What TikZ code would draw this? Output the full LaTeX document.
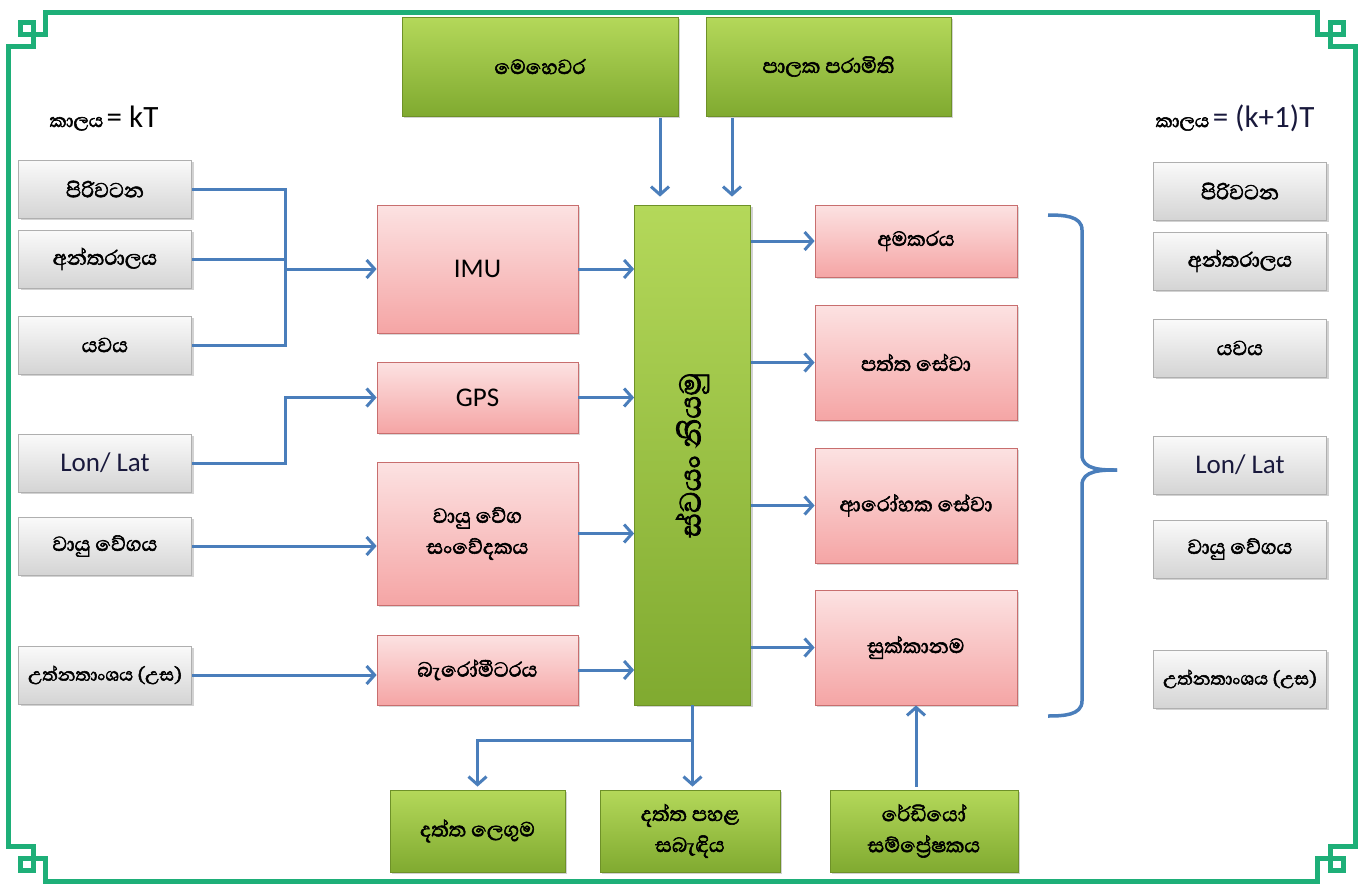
\documentclass[tikz,border=0pt]{standalone}
\usepackage{fontspec}
\setmainfont{Carlito}
\newfontfamily\sinfont[Script=Sinhala, FakeBold=2.2]{Abhaya Libre}
\usetikzlibrary{arrows.meta,shadows,calc}
\definecolor{frameg}{RGB}{30,175,120}
\definecolor{arrowb}{RGB}{74,126,187}
\definecolor{gtop}{RGB}{180,216,90}
\definecolor{gbot}{RGB}{128,170,48}
\definecolor{gdraw}{RGB}{110,145,40}
\definecolor{ptop}{RGB}{252,226,226}
\definecolor{pbot}{RGB}{245,165,165}
\definecolor{pdraw}{RGB}{200,110,110}
\definecolor{ytop}{RGB}{250,250,250}
\definecolor{ybot}{RGB}{212,212,212}
\definecolor{ydraw}{RGB}{175,175,175}
\definecolor{navy}{RGB}{25,25,60}
\tikzset{
  box/.style={inner sep=2pt, align=center, text=black,
    font=\sinfont\fontsize{26}{31}\selectfont},
  greenbox/.style={box, top color=gtop, bottom color=gbot, draw=gdraw, line width=0.8pt,
    drop shadow={shadow xshift=2pt, shadow yshift=-2pt, opacity=0.35}},
  pinkbox/.style={box, top color=ptop, bottom color=pbot, draw=pdraw, line width=0.8pt,
    drop shadow={shadow xshift=2pt, shadow yshift=-2pt, opacity=0.3}},
  graybox/.style={box, top color=ytop, bottom color=ybot, draw=ydraw, line width=0.8pt,
    minimum width=173pt, minimum height=58pt,
    drop shadow={shadow xshift=2pt, shadow yshift=-2pt, opacity=0.35}},
  latin/.style={font=\fontsize{27}{30}\selectfont, text=navy},
  ln/.style={draw=arrowb, line width=3pt},
  arr/.style={ln, -{Straight Barb[length=8pt,width=18pt,line width=3pt]}},
  brace/.style={draw=arrowb, line width=3.5pt},
  frame/.style={draw=frameg, line width=5pt, line join=miter}
}
\begin{document}
\begin{tikzpicture}[x=1pt,y=-1pt]
\useasboundingbox (0,0) rectangle (1360,887);
\fill[white] (0,0) rectangle (1360,887);

% frame with corner ornaments
\draw[frame] (8,46.5) -- (33,46.5) -- (33,22.5) -- (20,22.5) -- (20,34.5) -- (45.5,34.5) -- (45.5,12)
  -- (1317.5,12) -- (1317.5,34.5) -- (1343,34.5) -- (1343,22.5) -- (1330,22.5) -- (1330,46.5) -- (1355,46.5)
  -- (1355,846.5) -- (1330,846.5) -- (1330,870.5) -- (1343,870.5) -- (1343,858.5) -- (1317.5,858.5) -- (1317.5,881)
  -- (45.5,881) -- (45.5,858.5) -- (20,858.5) -- (20,870.5) -- (33,870.5) -- (33,846.5) -- (8,846.5) -- cycle;

% headers
\node (hl) at (104,118) {{\sinfont\fontsize{24}{26}\selectfont කාලය}\,\,{\fontsize{31}{33}\selectfont = kT}};
\node (hr) at (1235,118) {{\sinfont\fontsize{24}{26}\selectfont කාලය}\,\,{\fontsize{31}{33}\selectfont\color{navy} = (k+1)T}};

% left inputs
\node[graybox] (g1) at (105,189) {පිරිවටන};
\node[graybox] (g2) at (105,259) {අන්තරාලය};
\node[graybox] (g3) at (105,345) {යවය};
\node[graybox, latin] (g4) at (105,463) {Lon/ Lat};
\node[graybox] (g5) at (105,546) {වායු වේගය};
\node[graybox, font=\sinfont\fontsize{23}{26}\selectfont] (g6) at (105,675) {උත්නතාංශය (උස)};

% right outputs
\node[graybox] (r1) at (1240,191) {පිරිවටන};
\node[graybox] (r2) at (1240,261) {අන්තරාලය};
\node[graybox] (r3) at (1240,348) {යවය};
\node[graybox, latin] (r4) at (1240,465) {Lon/ Lat};
\node[graybox] (r5) at (1240,549) {වායු වේගය};
\node[graybox, font=\sinfont\fontsize{23}{26}\selectfont] (r6) at (1240,679) {උත්නතාංශය (උස)};

% sensors
\node[pinkbox, latin, text=black, minimum width=201pt, minimum height=128pt] (imu) at (477.5,269) {IMU};
\node[pinkbox, latin, text=black, minimum width=201pt, minimum height=71pt] (gps) at (477.5,397.5) {GPS};
\node[pinkbox, minimum width=201pt, minimum height=143pt] (air) at (477.5,533.5) {වායු වේග\\සංවේදකය};
\node[pinkbox, minimum width=201pt, minimum height=70pt] (baro) at (477.5,670) {බැරෝමීටරය};

% autopilot
\node[greenbox, minimum width=116pt, minimum height=500pt] (auto) at (692.5,455) {};
\node[box, rotate=90, font=\sinfont\fontsize{38}{42}\selectfont] (autotext) at (auto.center) {ස්වයං නියමු};

% top inputs
\node[greenbox, minimum width=276pt, minimum height=99pt] (m1) at (540,66.5) {මෙහෙවර};
\node[greenbox, minimum width=245pt, minimum height=99pt] (m2) at (828.5,66.5) {පාලක පරාමිති};

% actuators
\node[pinkbox, minimum width=202pt, minimum height=72pt] (am) at (916,241) {අමකරය};
\node[pinkbox, minimum width=202pt, minimum height=115pt] (pat) at (916,362.5) {පත්ත සේවා};
\node[pinkbox, minimum width=202pt, minimum height=115pt] (aro) at (916,505.5) {ආරෝහක සේවා};
\node[pinkbox, minimum width=202pt, minimum height=115pt] (suk) at (916,647.5) {සුක්කානම};

% bottom
\node[greenbox, minimum width=175pt, minimum height=82pt] (b1) at (477.5,831) {දත්ත ලෙගුම};
\node[greenbox, minimum width=180pt, minimum height=82pt] (b2) at (690,831) {දත්ත පහළ\\සබැඳිය};
\node[greenbox, minimum width=188pt, minimum height=82pt] (b3) at (924,831) {රේඩියෝ\\සම්ප්^^^^200dරේෂකය};

% connectors: left inputs
\coordinate (jl) at (285,269);
\draw[ln] (g1.east) -| (jl);
\draw[ln] (g3.east) -| (jl);
\draw[ln] (g2.east) -- (g2.east -| jl);
\draw[arr] (jl) -- (imu.west);
\coordinate (jg) at (285,463);
\draw[arr] (g4.east) -- (jg) |- (gps.west);
\draw[arr] (g5.east) -- (g5.east -| air.west);
\draw[arr] (g6.east) -- (g6.east -| baro.west);

% sensors to autopilot
\draw[arr] (imu.east) -- (imu.east -| auto.west);
\draw[arr] (gps.east) -- (gps.east -| auto.west);
\draw[arr] (air.east) -- (air.east -| auto.west);
\draw[arr] (baro.east) -- (baro.east -| auto.west);

% top to autopilot
\coordinate (t1) at (660,0);
\coordinate (t2) at (732,0);
\draw[arr, shorten >=8pt, shorten <=2pt] (m1.south -| t1) -- (auto.north -| t1);
\draw[arr, shorten >=8pt, shorten <=2pt] (m2.south -| t2) -- (auto.north -| t2);

% autopilot to actuators
\draw[arr] (auto.east |- am.west) -- (am.west);
\draw[arr] (auto.east |- pat.west) -- (pat.west);
\draw[arr] (auto.east |- aro.west) -- (aro.west);
\draw[arr] (auto.east |- suk.west) -- (suk.west);

% autopilot to bottom
\coordinate (jb) at ($(auto.south)+(0,35)$);
\draw[ln] (auto.south) -- (jb);
\draw[arr, shorten >=3pt] (jb) -| (b1.north);
\draw[arr, shorten >=3pt] (jb) -- (b2.north -| jb);
\draw[arr, shorten <=3pt] (b3.north -| suk.south) -- (suk.south);

% brace
\draw[brace] (1048,215) to[out=0,in=90] (1082,230) -- (1082,455) to[out=270,in=180] (1117,470);
\draw[brace] (1048,716) to[out=0,in=270] (1082,701) -- (1082,485) to[out=90,in=180] (1117,470);
\end{tikzpicture}
\end{document}
